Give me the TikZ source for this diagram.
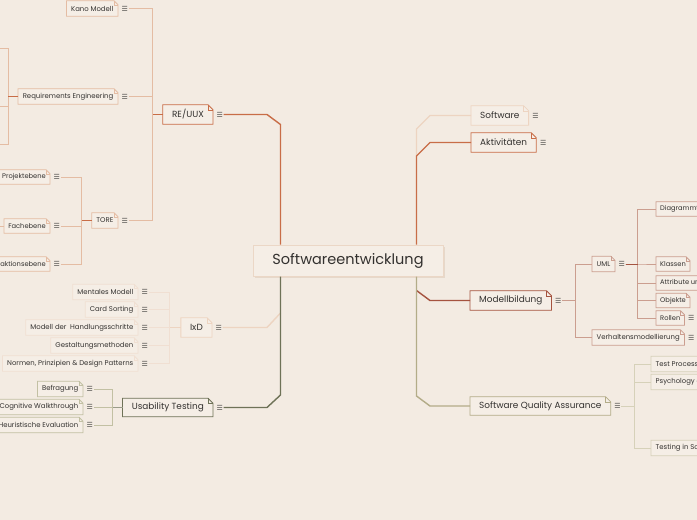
\documentclass[tikz,border=0pt]{standalone}
\usepackage{fontspec}
\setmainfont{Poppins}
\newfontfamily\symfont{DejaVu Sans}
\usetikzlibrary{positioning, shadows}
\definecolor{paper}{HTML}{F3EBE2}
\definecolor{boxfill}{HTML}{F5EEE6}
\definecolor{ink}{HTML}{33312F}
\definecolor{rust}{HTML}{C86D47}
\definecolor{rustlight}{HTML}{E4BCA3}
\definecolor{peach}{HTML}{EDD4C1}
\definecolor{faint}{HTML}{F0DFD2}
\definecolor{olive}{HTML}{6E7257}
\definecolor{olivelight}{HTML}{C2C0A3}
\definecolor{brick}{HTML}{A5533F}
\definecolor{bricklight}{HTML}{CB9E8F}
\definecolor{sand}{HTML}{B3AC88}
\definecolor{sandlight}{HTML}{D6D1B9}
\definecolor{centreline}{HTML}{EBD7C6}
\definecolor{shade}{HTML}{E6D8CA}

\tikzset{
  note/.style 2 args={text=ink, inner ysep=0pt,
    append after command={\pgfextra{
      \filldraw[draw=#1, fill=boxfill, line width=0.8pt, line join=miter]
        (\tikzlastnode.south west) -- (\tikzlastnode.north west)
        -- ([xshift=-#2]\tikzlastnode.north east)
        -- ([yshift=-#2]\tikzlastnode.north east)
        -- (\tikzlastnode.south east) -- cycle;
      \draw[#1, line width=0.5pt] ([xshift=-#2]\tikzlastnode.north east)
        |- ([yshift=-#2]\tikzlastnode.north east);
    }}},
  centre/.style={fill=boxfill, draw=centreline, line width=1pt, text=ink,
    minimum width=190pt, minimum height=31pt, font=\fontsize{14.5}{16}\selectfont,
    drop shadow={shadow xshift=2pt, shadow yshift=-2pt, fill=shade, opacity=1}},
  topic/.style={font=\fontsize{8.9}{10}\selectfont, inner xsep=9pt, minimum height=19pt},
  sub/.style={font=\fontsize{6.9}{8}\selectfont, inner xsep=4.5pt, minimum height=15pt},
  leaf/.style={font=\fontsize{6.7}{8}\selectfont, inner xsep=4pt, minimum height=14pt},
  menu/.style={font=\symfont\fontsize{7}{7}\selectfont, text=ink!85, inner sep=0.5pt},
  trunk/.style={line width=1.4pt},
  twig/.style={line width=0.8pt},
}

\begin{document}
\begin{tikzpicture}[x=1pt, y=-1pt, node distance=3pt]
  \useasboundingbox (0,0) rectangle (697,520);
  \fill[paper] (0,0) rectangle (697,520);

  % centre
  \node[centre] (swe) at (348,260.5) {Softwareentwicklung};
  \coordinate (lt) at ([xshift=28pt]swe.north west);
  \coordinate (lb) at ([xshift=28pt]swe.south west);
  \coordinate (rt) at ([xshift=-27pt]swe.north east);
  \coordinate (rb) at ([xshift=-27pt]swe.south east);

  % left: RE/UUX
  \node[topic, note={rust}{5pt}, anchor=east] (reuux) at (213,114.5) {RE/UUX};
  \node[menu, right=of reuux] (reuuxM) {☰};
  \node[sub, note={rustlight}{4pt}, anchor=east] (kano) at (118,8.5) {Kano Modell};
  \node[menu, right=of kano] (kanoM) {☰};
  \node[sub, note={rustlight}{4pt}, anchor=east] (req) at (118,96.5) {Requirements Engineering};
  \node[menu, right=of req] (reqM) {☰};
  \node[sub, note={rustlight}{4pt}, anchor=east] (tore) at (118,220.5) {TORE};
  \node[menu, right=of tore] (toreM) {☰};
  \coordinate (reqa) at (-5,48);
  \coordinate (reqb) at (-5,106);
  \coordinate (reqc) at (-5,144);
  \node[leaf, note={rustlight}{4pt}, anchor=east] (proj) at (50,177) {Projektebene};
  \node[menu, right=of proj] (projM) {☰};
  \node[leaf, note={rustlight}{4pt}, anchor=east] (fach) at (50,226) {Fachebene};
  \node[menu, right=of fach] (fachM) {☰};
  \coordinate (fachL) at (-5,226);
  \node[leaf, note={rustlight}{4pt}, anchor=east] (inter) at (50,264) {Interaktionsebene};
  \node[menu, right=of inter] (interM) {☰};

  % left: IxD
  \node[topic, note={peach}{5pt}, anchor=east] (ixd) at (212,327.5) {IxD};
  \node[menu, right=of ixd] (ixdM) {☰};
  \node[sub, note={faint}{4pt}, anchor=east] (ment) at (138,292) {Mentales Modell};
  \node[menu, right=of ment] (mentM) {☰};
  \node[sub, note={faint}{4pt}, anchor=east] (card) at (138,309.5) {Card Sorting};
  \node[menu, right=of card] (cardM) {☰};
  \node[sub, note={faint}{4pt}, anchor=east] (hand) at (138,327.5) {Modell der\ \ Handlungsschritte};
  \node[menu, right=of hand] (handM) {☰};
  \node[sub, note={faint}{4pt}, anchor=east] (gest) at (138,345.5) {Gestaltungsmethoden};
  \node[menu, right=of gest] (gestM) {☰};
  \node[sub, note={faint}{4pt}, anchor=east] (norm) at (138,363.5) {Normen, Prinzipien \& Design Patterns};
  \node[menu, right=of norm] (normM) {☰};

  % left: Usability Testing
  \node[topic, note={olive}{5pt}, anchor=east, minimum height=18pt] (ut) at (213,407.5) {Usability Testing};
  \node[menu, right=of ut] (utM) {☰};
  \node[sub, note={olivelight}{4pt}, anchor=east] (befr) at (83,389) {Befragung};
  \node[menu, right=of befr] (befrM) {☰};
  \node[sub, note={olivelight}{4pt}, anchor=east] (cogn) at (83,407) {Cognitive Walkthrough};
  \node[menu, right=of cogn] (cognM) {☰};
  \node[sub, note={olivelight}{4pt}, anchor=east] (heur) at (83,425) {Heuristische Evaluation};
  \node[menu, right=of heur] (heurM) {☰};

  % right: Software, Aktivitaeten
  \node[topic, note={peach}{5pt}, anchor=west] (sw) at (471,115.5) {Software};
  \node[menu, right=of sw] (swM) {☰};
  \node[topic, note={rust}{5pt}, anchor=west] (akt) at (471,142.5) {Aktivitäten};
  \node[menu, right=of akt] (aktM) {☰};

  % right: Modellbildung
  \node[topic, note={brick}{5pt}, anchor=west] (mb) at (470,300.5) {Modellbildung};
  \node[menu, right=of mb] (mbM) {☰};
  \node[sub, note={bricklight}{4pt}, anchor=west] (uml) at (592,264) {UML};
  \node[menu, right=of uml] (umlM) {☰};
  \node[sub, note={bricklight}{4pt}, anchor=west] (verh) at (592,337.5) {Verhaltensmodellierung};
  \node[menu, right=of verh] (verhM) {☰};
  \node[leaf, note={bricklight}{4pt}, anchor=west] (diag) at (656,209) {Diagrammtypen};
  \node[leaf, note={bricklight}{4pt}, anchor=west] (klas) at (656,264) {Klassen};
  \node[leaf, note={bricklight}{4pt}, anchor=west] (attr) at (656,283) {Attribute und Operationen};
  \node[leaf, note={bricklight}{4pt}, anchor=west] (obje) at (656,300.5) {Objekte};
  \node[leaf, note={bricklight}{4pt}, anchor=west] (roll) at (656,318) {Rollen};
  \node[menu, right=of roll] (rollM) {☰};

  % right: Software Quality Assurance
  \node[topic, note={sand}{5pt}, anchor=west, minimum height=18pt] (sqa) at (470,406) {Software Quality Assurance};
  \node[menu, right=of sqa] (sqaM) {☰};
  \node[sub, note={sandlight}{4pt}, anchor=west] (proc) at (651,364) {Test Process};
  \node[sub, note={sandlight}{4pt}, anchor=west] (psyc) at (651,382) {Psychology of Testing};
  \node[sub, note={sandlight}{4pt}, anchor=west] (life) at (651,448) {Testing in Software Lifecycle};

  % trunks
  \draw[trunk, rust] (reuuxM.east) -- (reuuxM.east -| 267,0) -- (lt |- 0,124.5) -- (lt);
  \draw[trunk, peach] (ixdM.east) -- (ixdM.east -| 267,0) -- (lb |- 0,313);
  \draw[trunk, olive] (utM.east) -- (utM.east -| 267,0) -- (lb |- 0,395) -- (lb);
  \draw[trunk, peach] (sw.west) -- (sw.west -| 430,0) -- (rt |- 0,129) -- (rt |- 0,156);
  \draw[trunk, rust] (akt.west) -- (akt.west -| 430,0) -- (rt |- 0,156) -- (rt);
  \draw[trunk, brick] (mb.west) -- (mb.west -| 430,0) -- (rb |- 0,290.5);
  \draw[trunk, sand] (sqa.west) -- (sqa.west -| 430,0) -- (rb |- 0,396) -- (rb);

  % twigs
  \foreach \kid in {kanoM, reqM, toreM}
    \draw[twig, rustlight] (reuux.west) -- ++(-10,0) |- (\kid.east);
  \draw[twig, rust] (reuux.west) -- ++(-10,0);
  \foreach \kid in {reqa, reqb, reqc}
    \draw[twig, rustlight] (req.west) -- ++(-10,0) |- (\kid);
  \draw[twig, rust] (req.west) -- ++(-10,0);
  \foreach \kid in {projM, fachM, interM}
    \draw[twig, rustlight] (tore.west) -- ++(-10,0) |- (\kid.east);
  \draw[twig, rust] (tore.west) -- ++(-10,0);
  \draw[twig, rustlight] (fach.west) -- (fachL);
  \foreach \kid in {mentM, cardM, handM, gestM, normM}
    \draw[twig, faint] (ixd.west) -- ++(-11,0) |- (\kid.east);
  \draw[twig, peach] (ixd.west) -- ++(-11,0);
  \foreach \kid in {befrM, cognM, heurM}
    \draw[twig, olivelight] (ut.west) -- ++(-10,0) |- (\kid.east);
  \draw[twig, olive!70] (ut.west) -- ++(-10,0);
  \foreach \kid in {uml, verh}
    \draw[twig, bricklight] (mbM.east) -- ++(13,0) |- (\kid.west);
  \foreach \kid in {diag, klas, attr, obje, roll}
    \draw[twig, bricklight] (umlM.east) -- ++(12,0) |- (\kid.west);
  \draw[twig, brick] (umlM.east) -- ++(12,0);
  \foreach \kid in {proc, psyc, life}
    \draw[twig, sandlight] (sqaM.east) -- ++(13,0) |- (\kid.west);
\end{tikzpicture}
\end{document}
